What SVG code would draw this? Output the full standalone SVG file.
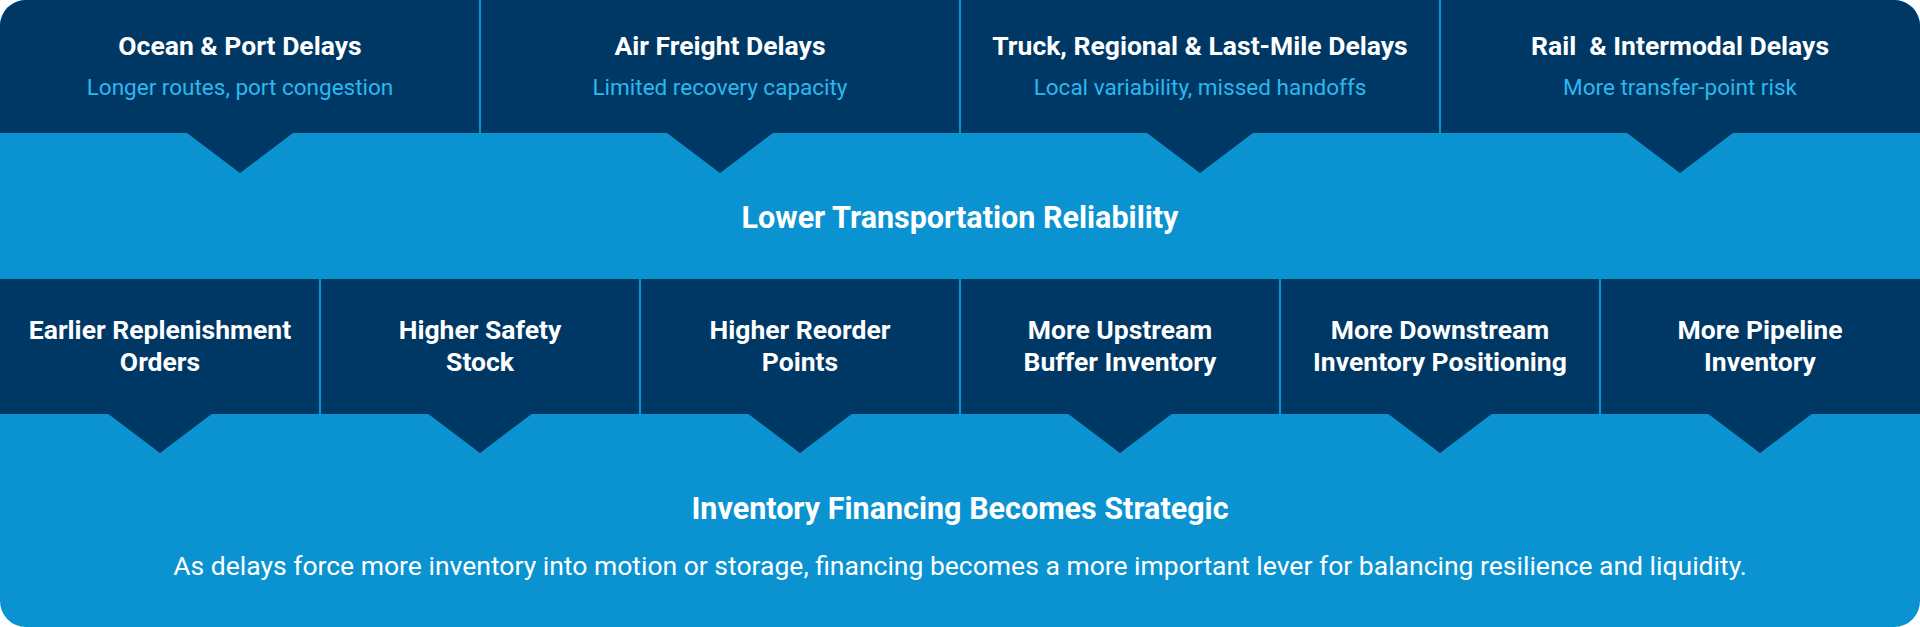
<svg xmlns="http://www.w3.org/2000/svg" width="1920" height="627" viewBox="0 0 1920 627">
<defs>
<style>
.t{font-family:Roboto,"Liberation Sans",sans-serif;font-weight:700;fill:#fff;text-anchor:middle}
.h{font-size:26.5px}
.s{font-family:Roboto,"Liberation Sans",sans-serif;fill:#2bb8ee;text-anchor:middle;font-size:22.5px}
.b{fill:#003865}
.d{stroke:#0a93d1;stroke-width:2}
</style>
<clipPath id="c"><rect width="1920" height="627" rx="26"/></clipPath>
</defs>
<g clip-path="url(#c)">
<rect width="1920" height="627" fill="#0b93d1"/>
<g id="top">
<path class="b" d="M0 0H1920V133H1733L1680 173L1627 133H1253L1200 173L1147 133H773L720 173L667 133H293L240 173L187 133H0Z"/>
</g>
<g id="bottom">
<path class="b" d="M0 279H1920V414H0Z"/>
<path class="b" d="M107 413L160 453L213 413ZM427 413L480 453L533 413ZM747 413L800 453L853 413ZM1067 413L1120 453L1173 413ZM1387 413L1440 453L1493 413ZM1707 413L1760 453L1813 413Z"/>
</g>
<g id="connectors">
<line class="d" x1="480" y1="0" x2="480" y2="133"/>
<line class="d" x1="960" y1="0" x2="960" y2="133"/>
<line class="d" x1="1440" y1="0" x2="1440" y2="133"/>
<line class="d" x1="320" y1="279" x2="320" y2="414"/>
<line class="d" x1="640" y1="279" x2="640" y2="414"/>
<line class="d" x1="960" y1="279" x2="960" y2="414"/>
<line class="d" x1="1280" y1="279" x2="1280" y2="414"/>
<line class="d" x1="1600" y1="279" x2="1600" y2="414"/>
</g>
</g>
<g id="n1"><text class="t h" x="240" y="55">Ocean &amp; Port Delays</text><text class="s" x="240" y="95">Longer routes, port congestion</text></g>
<g id="n2"><text class="t h" x="720" y="55">Air Freight Delays</text><text class="s" x="720" y="95">Limited recovery capacity</text></g>
<g id="n3"><text class="t h" x="1200" y="55">Truck, Regional &amp; Last-Mile Delays</text><text class="s" x="1200" y="95">Local variability, missed handoffs</text></g>
<g id="n4"><text class="t h" x="1680" y="55" xml:space="preserve">Rail  &amp; Intermodal Delays</text><text class="s" x="1680" y="95">More transfer-point risk</text></g>
<g id="mid"><text class="t" x="960" y="228" font-size="30.5">Lower Transportation Reliability</text></g>
<g id="b1"><text class="t h" x="160" y="339">Earlier Replenishment</text><text class="t h" x="160" y="371">Orders</text></g>
<g id="b2"><text class="t h" x="480" y="339">Higher Safety</text><text class="t h" x="480" y="371">Stock</text></g>
<g id="b3"><text class="t h" x="800" y="339">Higher Reorder</text><text class="t h" x="800" y="371">Points</text></g>
<g id="b4"><text class="t h" x="1120" y="339">More Upstream</text><text class="t h" x="1120" y="371">Buffer Inventory</text></g>
<g id="b5"><text class="t h" x="1440" y="339">More Downstream</text><text class="t h" x="1440" y="371">Inventory Positioning</text></g>
<g id="b6"><text class="t h" x="1760" y="339">More Pipeline</text><text class="t h" x="1760" y="371">Inventory</text></g>
<g id="final"><text class="t" x="960" y="519" font-size="30.5">Inventory Financing Becomes Strategic</text>
<text x="960" y="575" font-family="Roboto,'Liberation Sans',sans-serif" font-size="26.5" fill="#fff" text-anchor="middle">As delays force more inventory into motion or storage, financing becomes a more important lever for balancing resilience and liquidity.</text></g>
</svg>
